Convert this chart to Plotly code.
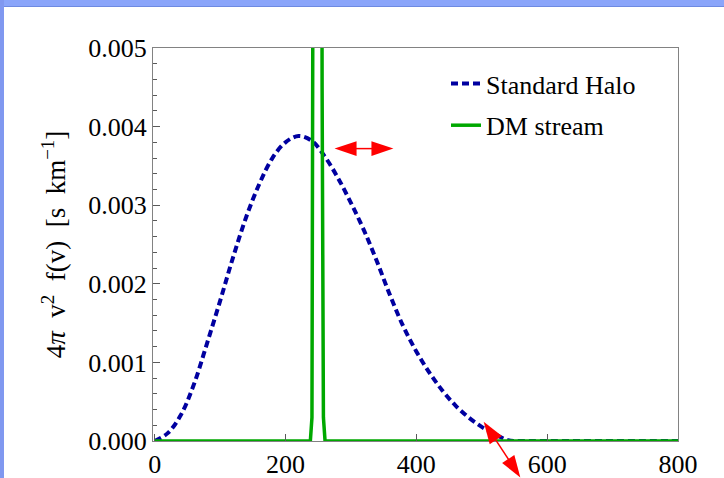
import plotly.graph_objects as go

# ---------------- data ----------------
halo_v = [0, 20, 40, 60, 80, 100, 120, 140, 160, 180, 200, 220, 240, 260, 280,
          300, 320, 340, 360, 380, 400, 420, 440, 460, 480, 500, 520, 540,
          560, 600, 650, 700, 750, 800]
halo_f = [0.0, 0.00010, 0.00033, 0.00072, 0.00124, 0.00178, 0.00234, 0.00285,
          0.00327, 0.00360, 0.00380, 0.00388, 0.00382, 0.00362, 0.00335,
          0.00303, 0.00268, 0.00228, 0.00185, 0.00146, 0.00114, 0.00087,
          0.00064, 0.00045, 0.00030, 0.00018, 0.00009, 0.00001,
          0.0, 0.0, 0.0, 0.0, 0.0, 0.0]

stream_v = [0, 238, 240.5, 242, 243.5, 246, 249, 252, 254.5, 256, 258, 260.5, 800]
stream_f = [0.0, 0.0, 0.0003, 0.0045, 0.012, 0.04, 0.06, 0.04, 0.012, 0.0045, 0.0003, 0.0, 0.0]

y_ticks = [0.000, 0.001, 0.002, 0.003, 0.004, 0.005]
x_ticks = [0, 200, 400, 600, 800]

# annotation arrows (data coordinates of the two tips)
arrow_h = ((275, 0.00372), (365, 0.00372))
arrow_d = ((503, 0.000245), (559, -0.000463))

# ---------------- layout geometry ----------------
W, H = 724, 478
ML, MR, MT, MB = 153, 46, 48, 37
PW, PH = W - ML - MR, H - MT - MB
XR = [-2.5, 800]
YR = [0, 0.005]

BLUE = "rgb(0,0,160)"
GREEN = "rgb(0,168,0)"
RED = "rgb(255,0,0)"
FONT = "Liberation Serif"
SP = "\u2002"


def d2px(v, f):
    return (ML + (v - XR[0]) / (XR[1] - XR[0]) * PW,
            MT + (YR[1] - f) / (YR[1] - YR[0]) * PH)


def px2paper(px, py):
    return ((px - ML) / PW, (H - MB - py) / PH)


def arrow_shapes(p1, p2, head_len=22, half_w=7.3, width=1.5):
    a = d2px(*p1)
    b = d2px(*p2)
    dx, dy = b[0] - a[0], b[1] - a[1]
    n = (dx * dx + dy * dy) ** 0.5
    ux, uy = dx / n, dy / n
    nx, ny = -uy, ux
    shapes = []
    s0 = (a[0] + ux * head_len * 0.8, a[1] + uy * head_len * 0.8)
    s1 = (b[0] - ux * head_len * 0.8, b[1] - uy * head_len * 0.8)
    q0 = px2paper(*s0)
    q1 = px2paper(*s1)
    shapes.append(dict(type="line", xref="paper", yref="paper",
                       x0=q0[0], y0=q0[1], x1=q1[0], y1=q1[1],
                       line=dict(color=RED, width=width), layer="above"))
    for tip, sgn in ((a, 1), (b, -1)):
        base = (tip[0] + sgn * ux * head_len, tip[1] + sgn * uy * head_len)
        c1 = (base[0] + nx * half_w, base[1] + ny * half_w)
        c2 = (base[0] - nx * half_w, base[1] - ny * half_w)
        pts = [px2paper(*p) for p in (tip, c1, c2)]
        path = "M {:.5f},{:.5f} L {:.5f},{:.5f} L {:.5f},{:.5f} Z".format(
            pts[0][0], pts[0][1], pts[1][0], pts[1][1], pts[2][0], pts[2][1])
        shapes.append(dict(type="path", xref="paper", yref="paper", path=path,
                           fillcolor=RED, line=dict(width=0), layer="above"))
    return shapes


fig = go.Figure()
fig.add_trace(go.Scatter(x=halo_v, y=halo_f, mode="lines", name="Standard Halo",
                         line=dict(color=BLUE, width=4, dash="7px,4px", shape="spline"),
                         legendgroup="a"))
fig.add_trace(go.Scatter(x=stream_v, y=stream_f, mode="lines", name="DM stream",
                         line=dict(color=GREEN, width=3.5), legendgroup="b"))

shapes = []
# slide border (blue band top and left)
tl = px2paper(0, 0)
br = px2paper(W, 6)
shapes.append(dict(type="rect", xref="paper", yref="paper", x0=tl[0], y0=br[1], x1=br[0], y1=tl[1],
                   fillcolor="rgb(138,165,250)", line=dict(width=0), layer="below"))
l1 = px2paper(0, 6)
l2 = px2paper(W, 7)
shapes.append(dict(type="rect", xref="paper", yref="paper", x0=l1[0], y0=l2[1], x1=l2[0], y1=l1[1],
                   fillcolor="rgb(110,138,225)", line=dict(width=0), layer="below"))
lb1 = px2paper(0, 0)
lb2 = px2paper(4, H)
shapes.append(dict(type="rect", xref="paper", yref="paper", x0=lb1[0], y0=lb2[1], x1=lb2[0], y1=lb1[1],
                   fillcolor="rgb(128,152,240)", line=dict(width=0), layer="below"))
shapes += arrow_shapes(*arrow_h)
shapes += arrow_shapes(*arrow_d)

axis_common = dict(showgrid=False, zeroline=False, showline=True, mirror=True,
                   automargin=False,
                   linecolor="rgb(130,130,130)", linewidth=1,
                   ticks="inside", tickcolor="rgb(90,90,90)", tickwidth=1,
                   tickfont=dict(family=FONT, size=26, color="black"))

title_text = ("4<i>π</i>" + SP + "v<sup>2</sup>" + SP + "f(v)" + SP + "[s" + SP +
              "km<sup>−1</sup>]")

fig.update_layout(
    width=W, height=H,
    margin=dict(l=ML, r=MR, t=MT, b=MB),
    paper_bgcolor="white", plot_bgcolor="white",
    showlegend=True,
    legend=dict(x=px2paper(446, 0)[0], y=px2paper(0, 60)[1], xanchor="left", yanchor="top",
                bgcolor="rgba(0,0,0,0)", font=dict(family=FONT, size=26, color="black"),
                traceorder="grouped", tracegroupgap=5),
    xaxis=dict(range=XR, tickvals=x_ticks, ticktext=[str(v) for v in x_ticks],
               ticklen=7, **axis_common),
    yaxis=dict(range=YR, tickvals=y_ticks, ticktext=["%.3f" % v for v in y_ticks],
               ticklen=7,
               minor=dict(ticks="inside", dtick=0.0002, ticklen=4, tickcolor="rgb(90,90,90)",
                          showgrid=False),
               title=dict(text=title_text,
                          font=dict(family=FONT, size=27, color="black"), standoff=14),
               **axis_common),
    shapes=shapes,
)

fig.write_html("out.html")
